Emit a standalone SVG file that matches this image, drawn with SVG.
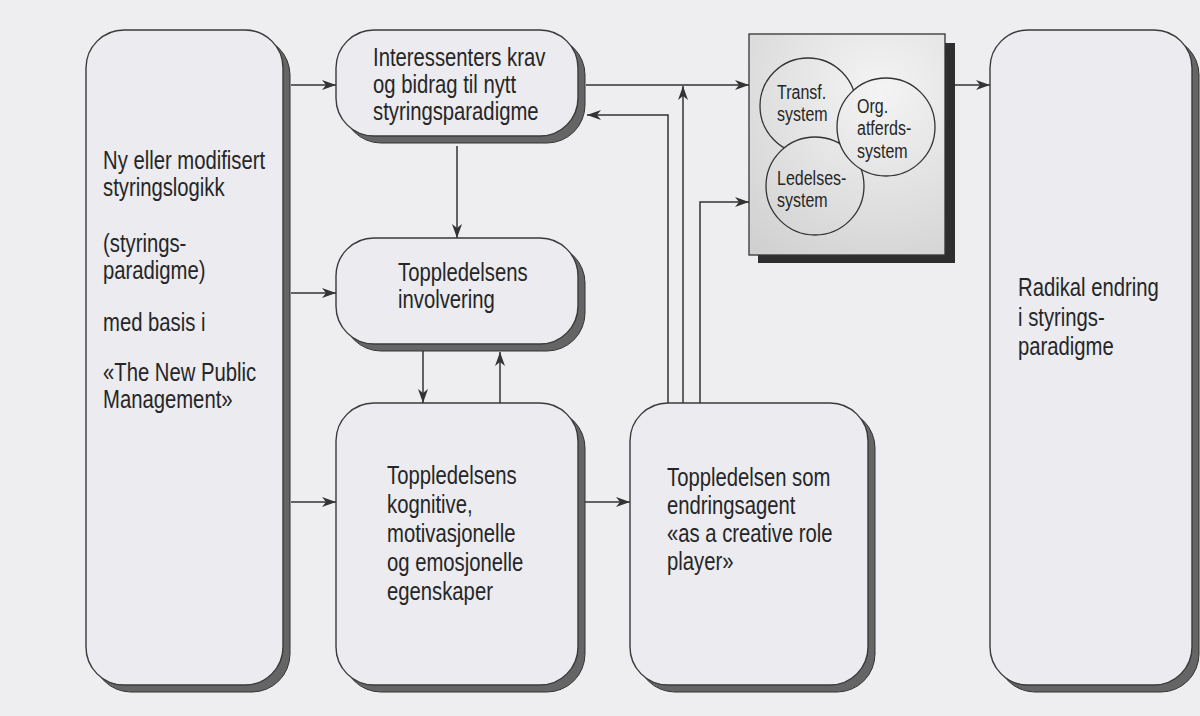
<svg xmlns="http://www.w3.org/2000/svg" width="1200" height="716" viewBox="0 0 1200 716">
<defs>
<style>
.node{fill:#ebebf0;stroke:#3a3a3a;stroke-width:1.4}
.shadow{fill:#656565;stroke:#333;stroke-width:1}
.conn{fill:none;stroke:#333;stroke-width:1.5}
.t{font-family:"Liberation Sans",Arial,sans-serif;font-size:26px;fill:#262626}
.ts{font-family:"Liberation Sans",Arial,sans-serif;font-size:20px;fill:#262626}
.circ{fill:url(#sysg);stroke:#333;stroke-width:1.3}
</style>
<marker id="arr" viewBox="0 0 14 10" refX="14" refY="5" markerWidth="14" markerHeight="10" markerUnits="userSpaceOnUse" orient="auto">
<path d="M0,0 L14,5 L0,10 L4,5 z" fill="#333"/>
</marker>
<radialGradient id="sysg" gradientUnits="userSpaceOnUse" cx="880" cy="90" r="220">
<stop offset="0" stop-color="#f4f4f4"/>
<stop offset="1" stop-color="#cdcdcd"/>
</radialGradient>
</defs>
<rect width="1200" height="716" fill="#eeeef1"/>

<g id="connectors">
<line class="conn" x1="291" y1="85" x2="336" y2="85" marker-end="url(#arr)"/>
<line class="conn" x1="291" y1="293" x2="336" y2="293" marker-end="url(#arr)"/>
<line class="conn" x1="291" y1="502" x2="336" y2="502" marker-end="url(#arr)"/>
<line class="conn" x1="457" y1="146" x2="457" y2="238" marker-end="url(#arr)"/>
<line class="conn" x1="423" y1="351" x2="423" y2="403" marker-end="url(#arr)"/>
<line class="conn" x1="500" y1="403" x2="500" y2="352" marker-end="url(#arr)"/>
<line class="conn" x1="585" y1="502" x2="630" y2="502" marker-end="url(#arr)"/>
<line class="conn" x1="586" y1="85" x2="749" y2="85" marker-end="url(#arr)"/>
<polyline class="conn" points="668,403 668,115 587,115" marker-end="url(#arr)"/>
<line class="conn" x1="683" y1="403" x2="683" y2="86" marker-end="url(#arr)"/>
<polyline class="conn" points="700,403 700,202 749,202" marker-end="url(#arr)"/>
<line class="conn" x1="955" y1="85" x2="990" y2="85" marker-end="url(#arr)"/>
</g>

<g id="n-logikk">
<rect class="shadow" x="93" y="37" width="197" height="655" rx="38"/>
<rect class="node" x="86" y="30" width="197" height="655" rx="38"/>
<g transform="translate(103,0) scale(0.78,1)">
<text class="t" x="0" y="169">Ny eller modifisert</text>
<text class="t" x="0" y="196">styringslogikk</text>
<text class="t" x="0" y="252">(styrings-</text>
<text class="t" x="0" y="279">paradigme)</text>
<text class="t" x="0" y="331">med basis i</text>
<text class="t" x="0" y="381">«The New Public</text>
<text class="t" x="0" y="408">Management»</text>
</g>
</g>

<g id="n-interessenter">
<rect class="shadow" x="343" y="37" width="242" height="106" rx="38"/>
<rect class="node" x="336" y="30" width="242" height="106" rx="38"/>
<g transform="translate(373,0) scale(0.78,1)">
<text class="t" x="0" y="66">Interessenters krav</text>
<text class="t" x="0" y="93">og bidrag til nytt</text>
<text class="t" x="0" y="120">styringsparadigme</text>
</g>
</g>

<g id="n-involvering">
<rect class="shadow" x="343" y="245" width="242" height="106" rx="38"/>
<rect class="node" x="336" y="238" width="242" height="106" rx="38"/>
<g transform="translate(398,0) scale(0.78,1)">
<text class="t" x="0" y="281">Toppledelsens</text>
<text class="t" x="0" y="308">involvering</text>
</g>
</g>

<g id="n-kognitive">
<rect class="shadow" x="343" y="410" width="242" height="282" rx="38"/>
<rect class="node" x="336" y="403" width="242" height="282" rx="38"/>
<g transform="translate(387,0) scale(0.78,1)">
<text class="t" x="0" y="484">Toppledelsens</text>
<text class="t" x="0" y="513">kognitive,</text>
<text class="t" x="0" y="542">motivasjonelle</text>
<text class="t" x="0" y="571">og emosjonelle</text>
<text class="t" x="0" y="600">egenskaper</text>
</g>
</g>

<g id="n-endringsagent">
<rect class="shadow" x="637" y="410" width="238" height="282" rx="38"/>
<rect class="node" x="630" y="403" width="238" height="282" rx="38"/>
<g transform="translate(667,0) scale(0.78,1)">
<text class="t" x="0" y="486">Toppledelsen som</text>
<text class="t" x="0" y="514">endringsagent</text>
<text class="t" x="0" y="542">«as a creative role</text>
<text class="t" x="0" y="570">player»</text>
</g>
</g>

<g id="n-system">
<rect x="758" y="43" width="197" height="220" fill="#2e2e2e"/>
<rect x="749" y="34" width="196" height="221" fill="url(#sysg)" stroke="#333" stroke-width="1.3"/>
<circle class="circ" cx="808" cy="106" r="48"/>
<circle class="circ" cx="815" cy="186" r="49"/>
<circle class="circ" cx="886" cy="127" r="49"/>
<g transform="translate(777,0) scale(0.8,1)">
<text class="ts" x="0" y="99">Transf.</text>
<text class="ts" x="0" y="121.5">system</text>
<text class="ts" x="0" y="185">Ledelses-</text>
<text class="ts" x="0" y="207.5">system</text>
</g>
<g transform="translate(857,0) scale(0.8,1)">
<text class="ts" x="0" y="113">Org.</text>
<text class="ts" x="0" y="135.5">atferds-</text>
<text class="ts" x="0" y="158">system</text>
</g>
</g>

<g id="n-radikal">
<rect class="shadow" x="997" y="37" width="202" height="655" rx="38"/>
<rect class="node" x="990" y="30" width="202" height="655" rx="38"/>
<g transform="translate(1018,0) scale(0.78,1)">
<text class="t" x="0" y="296">Radikal endring</text>
<text class="t" x="0" y="326">i styrings-</text>
<text class="t" x="0" y="355">paradigme</text>
</g>
</g>
</svg>
